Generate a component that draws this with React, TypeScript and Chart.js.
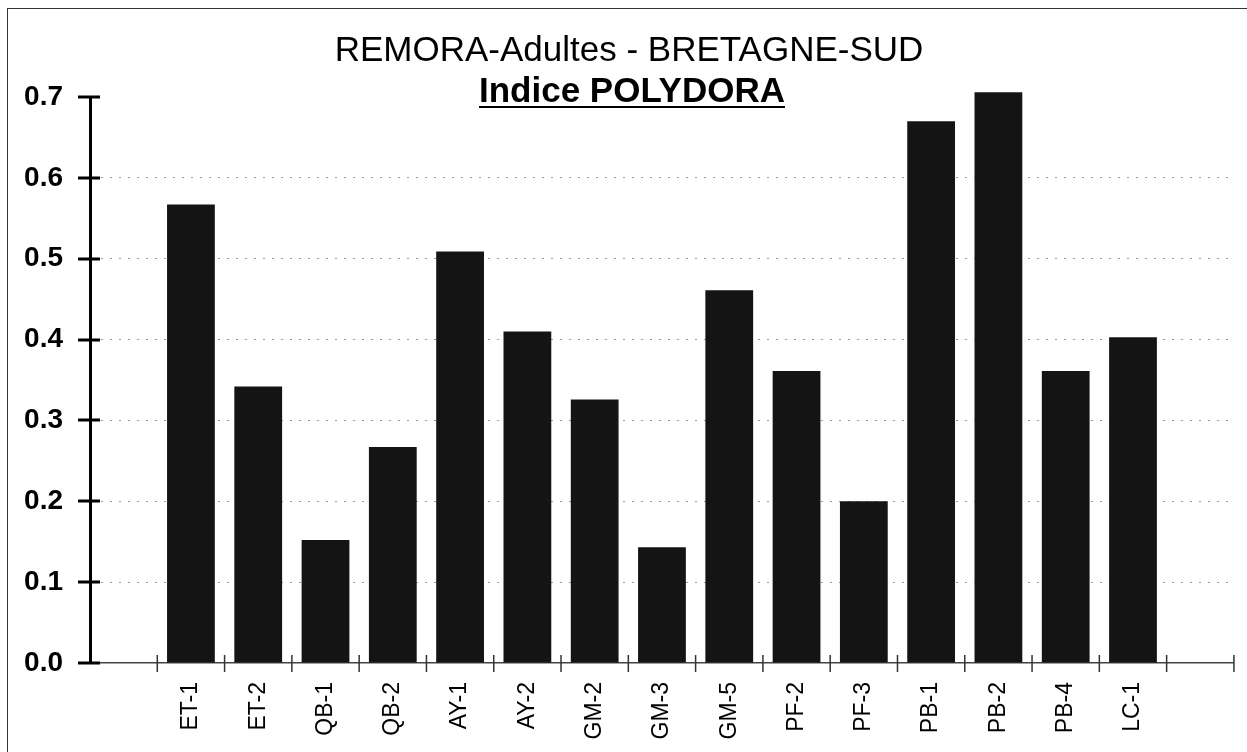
import React, { useEffect, useRef } from "react";
import { Chart, registerables } from "chart.js";

Chart.register(...registerables);

const categories = ["", "ET-1", "ET-2", "QB-1", "QB-2", "AY-1", "AY-2", "GM-2", "GM-3", "GM-5", "PF-2", "PF-3", "PB-1", "PB-2", "PB-4", "LC-1", ""];
const polydoraValues: (number | null)[] = [null, 0.567, 0.342, 0.152, 0.267, 0.509, 0.41, 0.326, 0.143, 0.461, 0.361, 0.2, 0.67, 0.706, 0.361, 0.403, null];
const yTicks = [0, 0.1, 0.2, 0.3, 0.4, 0.5, 0.6, 0.7];
const titleLine1 = "REMORA-Adultes - BRETAGNE-SUD";
const titleLine2 = "Indice POLYDORA";

const FONT = "'Liberation Sans', Arial, Helvetica, sans-serif";

const crossTicks = {
  id: "crossTicks",
  afterDraw(chart: any) {
    const ctx = chart.ctx;
    const y = chart.scales.y;
    const x = chart.scales.x;
    ctx.save();
    ctx.strokeStyle = "#000";
    ctx.lineWidth = 3;
    y.ticks.forEach((_t: any, i: number) => {
      const py = Math.round(y.getPixelForTick(i));
      ctx.beginPath();
      ctx.moveTo(x.left - 12, py);
      ctx.lineTo(x.left + 10, py);
      ctx.stroke();
    });
    ctx.strokeStyle = "#333";
    ctx.lineWidth = 1.5;
    const n = categories.length;
    for (let i = 1; i <= n; i++) {
      const px = i < n
        ? (x.getPixelForValue(i - 1) + x.getPixelForValue(i)) / 2
        : x.right;
      ctx.beginPath();
      ctx.moveTo(px, y.bottom - 8);
      ctx.lineTo(px, y.bottom + 9);
      ctx.stroke();
    }
    ctx.restore();
  },
};

export default function App() {
  const ref = useRef<HTMLCanvasElement | null>(null);
  useEffect(() => {
    if (!ref.current) return;
    const chart = new Chart(ref.current, {
      type: "bar",
      data: {
        labels: categories,
        datasets: [
          {
            data: polydoraValues as any,
            backgroundColor: "#141414",
            borderWidth: 0,
            barPercentage: 0.71,
            categoryPercentage: 1,
            clip: false as any,
          },
        ],
      },
      options: {
        animation: false,
        responsive: false,
        devicePixelRatio: 1,
        layout: { padding: { top: 97, right: 4, left: 0, bottom: 0 } },
        plugins: { legend: { display: false }, tooltip: { enabled: false }, title: { display: false } },
        scales: {
          x: {
            offset: true,
            grid: { display: false, drawTicks: false },
            border: { display: true, color: "#444", width: 1.5 },
            ticks: {
              autoSkip: false,
              minRotation: 90,
              maxRotation: 90,
              padding: 19,
              color: "#000",
              font: { family: FONT, size: 23 },
            },
            afterFit(scale: any) {
              scale.height = 89;
            },
          },
          y: {
            min: 0,
            max: 0.7,
            afterBuildTicks(scale: any) {
              scale.ticks = yTicks.map((v) => ({ value: v }));
            },
            grid: {
              drawTicks: false,
              color: (c: any) => (c.tick && (c.tick.value === 0 || c.tick.value === 0.7) ? "rgba(0,0,0,0)" : "#9a9a9a"),
              lineWidth: 1,
            },
            border: { display: true, color: "#000", width: 3, dash: [2, 7] },
            ticks: {
              padding: 27,
              color: "#000",
              font: { family: FONT, size: 28, weight: "bold" },
              callback: (v: any) => Number(v).toFixed(1),
            },
            afterFit(scale: any) {
              scale.width = 90;
            },
          },
        },
      },
      plugins: [crossTicks],
    });
    return () => chart.destroy();
  }, []);

  return (
    <div style={{ position: "fixed", left: 0, top: 0, width: 1247, height: 752, overflow: "hidden", background: "#fff" }}>
      <div style={{ position: "absolute", left: 7, top: 8, width: 1260, height: 760, borderLeft: "1.5px solid #333", borderTop: "1.5px solid #333" }} />
      <canvas ref={ref} width={1247} height={752} style={{ position: "absolute", left: 0, top: 0, width: 1247, height: 752 }} />
      <div style={{ position: "absolute", left: 629, top: 31, transform: "translateX(-50%)", whiteSpace: "nowrap", fontFamily: FONT, fontSize: 35, lineHeight: "35px", color: "#000" }}>
        {titleLine1}
      </div>
      <div style={{ position: "absolute", left: 632, top: 72, transform: "translateX(-50%)", whiteSpace: "nowrap", fontFamily: FONT, fontSize: 35, lineHeight: "35px", fontWeight: "bold", textDecoration: "underline", textDecorationThickness: "2px", textUnderlineOffset: "4px", color: "#000" }}>
        {titleLine2}
      </div>
    </div>
  );
}
